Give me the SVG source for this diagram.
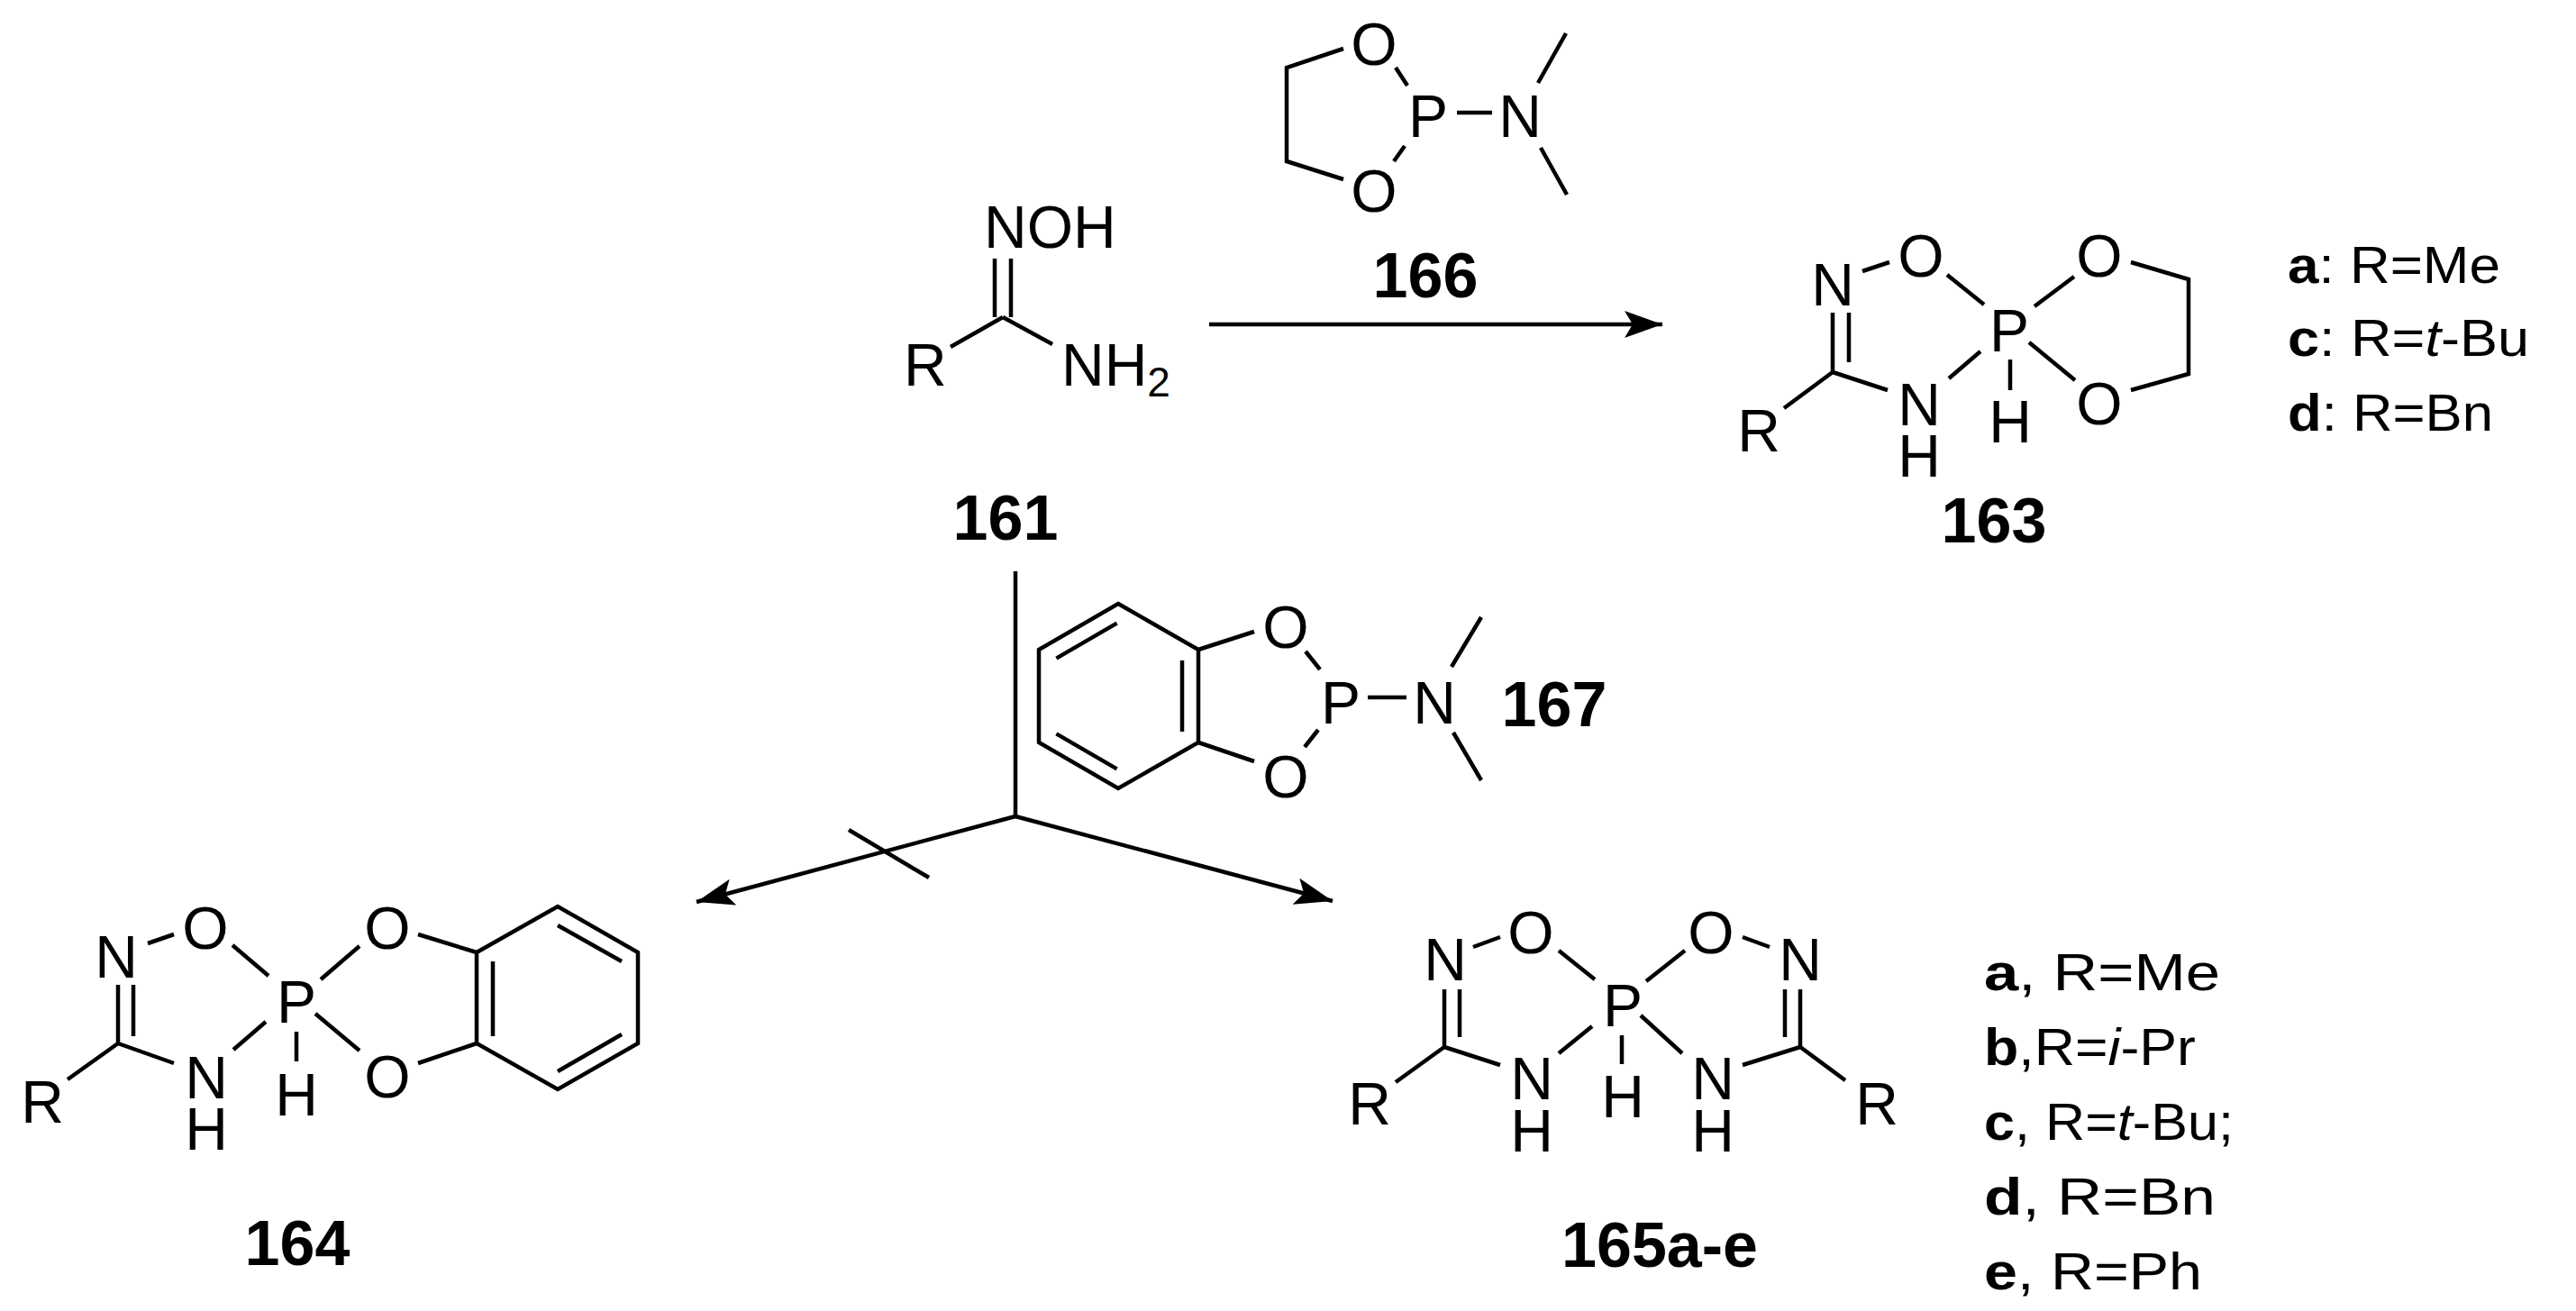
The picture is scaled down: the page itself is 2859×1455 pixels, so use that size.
<svg xmlns="http://www.w3.org/2000/svg" width="2859" height="1455" viewBox="0 0 2859 1455">
<style>
.b{stroke:#000;stroke-width:4.5;fill:none;stroke-linecap:butt}
.t{font-family:"Liberation Sans",Arial,sans-serif;font-size:66px;fill:#000;text-anchor:middle}
.s{font-family:"Liberation Sans",Arial,sans-serif;font-size:66px;fill:#000}
.n{font-family:"Liberation Sans",Arial,sans-serif;font-size:70px;font-weight:bold;fill:#000;text-anchor:middle}
.l{font-family:"Liberation Sans",Arial,sans-serif;font-size:58px;fill:#000}
</style>
<defs>
<marker id="ah" markerUnits="userSpaceOnUse" markerWidth="50" markerHeight="40" refX="42" refY="15" orient="auto">
<path d="M0,0 L42,15 L0,30 L9,15 z" fill="#000"/>
</marker>
</defs>
<rect width="2859" height="1455" fill="#fff"/>

<g id="c161">
<text class="s" x="1092" y="275">NOH</text>
<text class="s" x="1003" y="428">R</text>
<text class="s" x="1178" y="428">NH<tspan font-size="46" dy="12">2</tspan></text>
<path class="b" d="M1104,287V352M1122,287V352M1113,352L1055,385M1113,352L1168,382"/>
<text class="n" x="1116" y="599">161</text>
</g>

<g id="c166">
<text class="t" x="1525" y="72">O</text>
<text class="t" x="1585" y="152">P</text>
<text class="t" x="1687" y="152">N</text>
<text class="t" x="1525" y="235">O</text>
<path class="b" d="M1491,54L1428,75V179L1491,199M1549,75L1562,95M1559,162L1547,179M1617,125H1656M1707,92L1738,37M1710,164L1739,216"/>
<text class="n" x="1582" y="330">166</text>
</g>

<g id="c163">
<text class="t" x="2034" y="339">N</text>
<text class="t" x="2132" y="307">O</text>
<text class="t" x="2230" y="390">P</text>
<text class="t" x="2330" y="307">O</text>
<text class="t" x="2330" y="471">O</text>
<text class="t" x="2130" y="472">N</text>
<text class="t" x="2130" y="529">H</text>
<text class="t" x="2231" y="491">H</text>
<text class="t" x="1952" y="501">R</text>
<path class="b" d="M2034,347V413M2052,347V402M2067,301L2097,291M2161,305L2202,338M2258,340L2302,307M2252,380L2303,422M2198,390L2163,420M2231,399V433M2034,413L2095,433M2034,413L1980,453M2365,291L2429,310V415L2365,433"/>
<text class="n" x="2213" y="602">163</text>
<text class="l" x="2539" y="314" textLength="236" lengthAdjust="spacingAndGlyphs"><tspan font-weight="bold">a</tspan>: R=Me</text>
<text class="l" x="2539" y="395" textLength="268" lengthAdjust="spacingAndGlyphs"><tspan font-weight="bold">c</tspan>: R=<tspan font-style="italic">t</tspan>-Bu</text>
<text class="l" x="2539" y="478" textLength="228" lengthAdjust="spacingAndGlyphs"><tspan font-weight="bold">d</tspan>: R=Bn</text>
</g>

<g id="c167">
<path class="b" d="M1241,670L1330,721V824L1241,875L1153,824V721Z M1239.6,691.6L1172.4,730.6M1172.4,814.4L1239.6,853.4M1312,733V812M1330,721L1392,701M1330,824L1392,845M1449,723L1465,743M1463,810L1448,829M1518,774H1561M1611,740L1644,685M1613,813L1644,866"/>
<text class="t" x="1427" y="719">O</text>
<text class="t" x="1427" y="885">O</text>
<text class="t" x="1488" y="803">P</text>
<text class="t" x="1592" y="803">N</text>
<text class="n" x="1725" y="806">167</text>
</g>

<g id="c164">
<text class="t" x="129" y="1085">N</text>
<text class="t" x="228" y="1053">O</text>
<text class="t" x="329" y="1135">P</text>
<text class="t" x="430" y="1053">O</text>
<text class="t" x="430" y="1218">O</text>
<text class="t" x="229" y="1219">N</text>
<text class="t" x="229" y="1276">H</text>
<text class="t" x="329" y="1238">H</text>
<text class="t" x="47" y="1246">R</text>
<path class="b" d="M131,1093V1158M148,1093V1150M164,1047L193,1037M258,1049L298,1083M356,1087L399,1050M350,1125L399,1166M295,1134L259,1165M329,1145V1178M131,1158L193,1180M131,1158L75,1198M464,1037L529,1057M464,1180L529,1158M529,1057L619,1006L708,1057V1158L619,1209L529,1158Z M547,1067V1150M619,1027L690,1067M619,1189L690,1148"/>
<text class="n" x="330" y="1404">164</text>
</g>

<g id="c165">
<text class="t" x="1604" y="1088">N</text>
<text class="t" x="1699" y="1058">O</text>
<text class="t" x="1801" y="1139">P</text>
<text class="t" x="1899" y="1058">O</text>
<text class="t" x="1998" y="1088">N</text>
<text class="t" x="1700" y="1220">N</text>
<text class="t" x="1700" y="1278">H</text>
<text class="t" x="1801" y="1240">H</text>
<text class="t" x="1901" y="1220">N</text>
<text class="t" x="1901" y="1278">H</text>
<text class="t" x="1520" y="1248">R</text>
<text class="t" x="2083" y="1248">R</text>
<path class="b" d="M1603,1098V1162M1620,1098V1151M1998,1098V1162M1981,1098V1151M1635,1051L1665,1040M1730,1055L1770,1087M1827,1089L1870,1055M1934,1040L1964,1051M1767,1139L1730,1169M1821,1127L1867,1169M1800,1149V1181M1603,1162L1665,1182M1603,1162L1549,1201M1998,1162L1934,1182M1998,1162L2048,1199"/>
<text class="n" x="1842" y="1406">165a-e</text>
<text class="l" x="2202" y="1099" textLength="262" lengthAdjust="spacingAndGlyphs"><tspan font-weight="bold">a</tspan>, R=Me</text>
<text class="l" x="2202" y="1182" textLength="235" lengthAdjust="spacingAndGlyphs"><tspan font-weight="bold">b</tspan>,R=<tspan font-style="italic">i</tspan>-Pr</text>
<text class="l" x="2202" y="1265" textLength="277" lengthAdjust="spacingAndGlyphs"><tspan font-weight="bold">c</tspan>, R=<tspan font-style="italic">t</tspan>-Bu;</text>
<text class="l" x="2202" y="1348" textLength="257" lengthAdjust="spacingAndGlyphs"><tspan font-weight="bold">d</tspan>, R=Bn</text>
<text class="l" x="2202" y="1431" textLength="242" lengthAdjust="spacingAndGlyphs"><tspan font-weight="bold">e</tspan>, R=Ph</text>
</g>

<g id="connectors">
<line class="b" x1="1342" y1="360" x2="1845" y2="360" marker-end="url(#ah)"/>
<path class="b" d="M1127,634V906"/>
<line class="b" x1="1127" y1="906" x2="773" y2="1001" marker-end="url(#ah)"/>
<line class="b" x1="1127" y1="906" x2="1479" y2="1000" marker-end="url(#ah)"/>
<path class="b" d="M942,921L1031,974"/>
</g>
</svg>
